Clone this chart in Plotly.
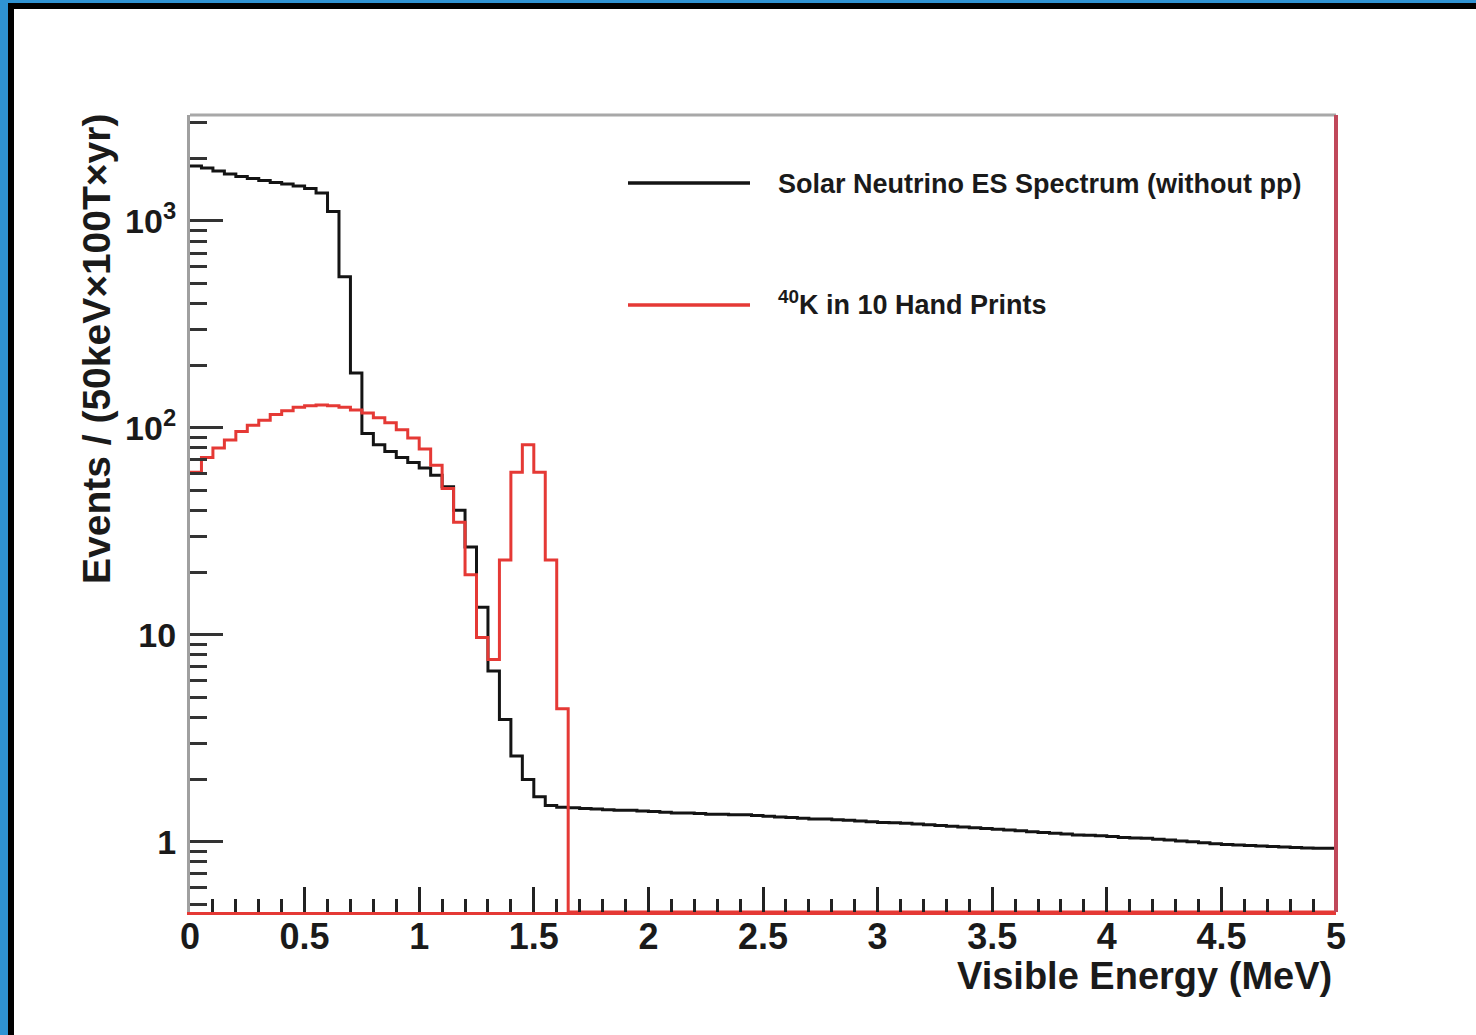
import plotly.graph_objects as go

# ---- histogram binning: 50 keV bins from 0 to 5 MeV ----
bin_width_mev = 0.05
n_bins = 100
bin_edges = [round(i * bin_width_mev, 2) for i in range(n_bins + 1)]

# Solar neutrino elastic-scattering spectrum (without pp), events per bin
solar_es = [
    1845, 1803, 1745, 1687, 1641, 1604, 1570, 1535, 1510, 1476,
    1435, 1365, 1110, 538, 184, 94, 83, 77, 72, 68,
    64, 59, 52, 40, 26.6, 13.6, 6.7, 3.9, 2.6, 2.0,
    1.65, 1.50, 1.47, 1.46, 1.45, 1.44, 1.43, 1.42, 1.42, 1.41,
    1.40, 1.39, 1.38, 1.38, 1.37, 1.36, 1.36, 1.35, 1.35, 1.34,
    1.33, 1.32, 1.31, 1.30, 1.29, 1.29, 1.28, 1.27, 1.26, 1.25,
    1.24, 1.235, 1.23, 1.22, 1.21, 1.20, 1.19, 1.18, 1.17, 1.16,
    1.15, 1.14, 1.13, 1.12, 1.11, 1.10, 1.09, 1.08, 1.075, 1.07,
    1.06, 1.05, 1.045, 1.04, 1.03, 1.02, 1.01, 1.00, 0.99, 0.98,
    0.97, 0.965, 0.96, 0.955, 0.95, 0.945, 0.94, 0.935, 0.93, 0.93,
]

# 40K from 10 hand prints, events per bin
k40_hand_prints = [
    61, 72, 80, 87.5, 96, 103, 109, 116, 121, 126,
    128, 129, 128, 126, 122, 118, 112, 106, 98, 89.5,
    79, 66, 51, 35, 19.5, 9.7, 7.6, 23, 61, 83,
    61, 23, 4.4, 0, 0, 0, 0, 0, 0, 0,
    0, 0, 0, 0, 0, 0, 0, 0, 0, 0,
    0, 0, 0, 0, 0, 0, 0, 0, 0, 0,
    0, 0, 0, 0, 0, 0, 0, 0, 0, 0,
    0, 0, 0, 0, 0, 0, 0, 0, 0, 0,
    0, 0, 0, 0, 0, 0, 0, 0, 0, 0,
    0, 0, 0, 0, 0, 0, 0, 0, 0, 0,
]

series_names = ["Solar Neutrino ES Spectrum (without pp)", "<sup>40</sup>K in 10 Hand Prints"]

# ---- axis ticks ----
x_tick_vals = [0, 0.5, 1, 1.5, 2, 2.5, 3, 3.5, 4, 4.5, 5]
x_tick_text = ["0", "0.5", "1", "1.5", "2", "2.5", "3", "3.5", "4", "4.5", "5"]
y_tick_vals = [1, 10, 100, 1000]
y_tick_text = ["1", "10", "10<sup>2</sup>", "10<sup>3</sup>"]
y_minor_vals = [0.5, 0.6, 0.7, 0.8, 0.9,
                2, 3, 4, 5, 6, 7, 8, 9,
                20, 30, 40, 50, 60, 70, 80, 90,
                200, 300, 400, 500, 600, 700, 800, 900,
                2000, 3000]

x_range = [0, 5]
y_log_range = [-0.339, 3.512]

BLACK = "#141414"
RED = "#e53935"
FONT = "Liberation Sans, Arial, Helvetica, sans-serif"

W, H = 1476, 1035
L, R, T, B = 190, 140, 115, 123
plot_w = W - L - R
plot_h = H - T - B


def px_x(p):
    return (p - L) / plot_w


def px_y(p):
    return (H - B - p) / plot_h


def step_y(values):
    # closing point so the last bin is drawn over its full width
    return list(values) + [values[-1]]


# empty bins sit on the bottom of the frame, as in a ROOT log plot
y_floor = 10 ** y_log_range[0]
k40_drawn = [v if v > 0 else y_floor for v in k40_hand_prints]

fig = go.Figure()
fig.add_trace(go.Scatter(
    x=bin_edges, y=step_y(solar_es), mode="lines", line_shape="hv",
    line=dict(color=BLACK, width=3), name=series_names[0],
))
fig.add_trace(go.Scatter(
    x=bin_edges, y=step_y(k40_drawn), mode="lines", line_shape="hv",
    line=dict(color=RED, width=3), name=series_names[1],
))

fig.update_layout(
    width=W, height=H, autosize=False,
    margin=dict(l=L, r=R, t=T, b=B, pad=0),
    paper_bgcolor="white", plot_bgcolor="white",
    showlegend=False,
    xaxis=dict(
        range=x_range, showgrid=False, zeroline=False,
        showline=True, linecolor=RED, linewidth=3,
        ticks="inside", ticklen=25, tickwidth=2.5, tickcolor="#222",
        tickmode="array", tickvals=x_tick_vals, ticktext=x_tick_text,
        tickfont=dict(family=FONT, size=36, color="#1a1a1a", weight="bold"),
        ticklabelstandoff=-9,
        minor=dict(ticks="inside", ticklen=13, tickwidth=2.5, tickcolor="#222",
                   tick0=0, dtick=0.1, showgrid=False),
    ),
    yaxis=dict(
        type="log", range=y_log_range, showgrid=False, zeroline=False,
        showline=True, linecolor="#a0a0a0", linewidth=3,
        ticks="inside", ticklen=33, tickwidth=2.5, tickcolor="#333",
        tickmode="array", tickvals=y_tick_vals, ticktext=y_tick_text,
        tickfont=dict(family=FONT, size=34, color="#1a1a1a", weight="bold"),
        ticklabelstandoff=4,
        minor=dict(ticks="inside", ticklen=17, tickwidth=2.5, tickcolor="#333",
                   tickmode="array", tickvals=y_minor_vals, showgrid=False),
    ),
)

shapes = [
    # remaining sides of the frame
    dict(type="line", xref="paper", yref="paper", x0=0, x1=1, y0=1, y1=1,
         line=dict(color="#a8a8a8", width=3)),
    dict(type="line", xref="paper", yref="paper", x0=1, x1=1, y0=0, y1=1,
         line=dict(color="#c0485a", width=4)),
    # slide background strip and picture border
    dict(type="rect", xref="paper", yref="paper",
         x0=px_x(0), x1=px_x(9), y0=px_y(H), y1=px_y(0),
         fillcolor="#2f93d3", line=dict(width=0), layer="below"),
    dict(type="rect", xref="paper", yref="paper",
         x0=px_x(0), x1=px_x(W), y0=px_y(3), y1=px_y(0),
         fillcolor="#2f93d3", line=dict(width=0), layer="below"),
    dict(type="line", xref="paper", yref="paper",
         x0=px_x(8), x1=px_x(W), y0=px_y(6), y1=px_y(6),
         line=dict(color="black", width=6)),
    dict(type="line", xref="paper", yref="paper",
         x0=px_x(11), x1=px_x(11), y0=px_y(3), y1=px_y(H),
         line=dict(color="black", width=6)),
    # legend samples
    dict(type="line", xref="paper", yref="paper",
         x0=px_x(628), x1=px_x(750), y0=px_y(183), y1=px_y(183),
         line=dict(color=BLACK, width=3.5)),
    dict(type="line", xref="paper", yref="paper",
         x0=px_x(628), x1=px_x(750), y0=px_y(305), y1=px_y(305),
         line=dict(color=RED, width=3.5)),
]

legend_font = dict(family=FONT, size=27, color="#1a1a1a", weight="bold")

annotations = [
    dict(text="Visible Energy (MeV)", xref="paper", yref="paper",
         x=px_x(1334), y=px_y(976), xanchor="right", yanchor="middle",
         showarrow=False, font=dict(family=FONT, size=38, color="#1a1a1a", weight="bold")),
    dict(text="Events / (50keV\u00d7100T\u00d7yr)", xref="paper", yref="paper",
         x=px_x(97), y=px_y(112), xanchor="center", yanchor="top",
         textangle=-90, showarrow=False,
         font=dict(family=FONT, size=39, color="#1a1a1a", weight="bold")),
    dict(text=series_names[0], xref="paper", yref="paper",
         x=px_x(776), y=px_y(184), xanchor="left", yanchor="middle",
         showarrow=False, font=legend_font),
    dict(text=series_names[1], xref="paper", yref="paper",
         x=px_x(776), y=px_y(303), xanchor="left", yanchor="middle",
         showarrow=False, font=legend_font),
]

fig.update_layout(shapes=shapes, annotations=annotations)

fig.write_html("out.html")
